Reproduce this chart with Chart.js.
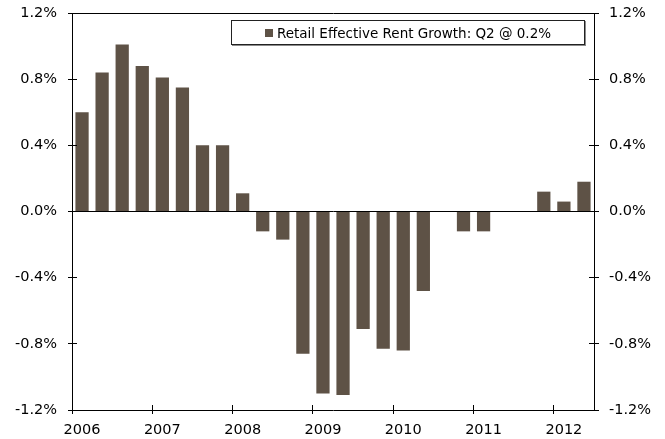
<!DOCTYPE html>
<html>
<head>
<meta charset="utf-8">
<script src="https://cdn.jsdelivr.net/npm/chart.js@4.4.1/dist/chart.umd.min.js"></script>
<style>
body { margin: 0; background: #fff; }
#wrap { position: relative; width: 665px; height: 439px; }
#wrap canvas { display: block; }
#legend {
    position: absolute; left: 231px; top: 20px; width: 354px; height: 25px;
    box-sizing: border-box; border: 1px solid #222; box-shadow: 1px 1px 0 #8a8a8a;
    background: #fff; display: flex; align-items: center; justify-content: center;
    font: 13.5px "DejaVu Sans", Verdana, sans-serif; color: #000;
}
#legend .mark { display: inline-block; width: 8px; height: 8px; margin-right: 4px; }
</style>
</head>
<body>
<div id="wrap">
    <canvas id="chart" width="665" height="439"></canvas>
    <div id="legend"></div>
</div>
<script>
const quarterLabels = [
    '2006 Q1', '2006 Q2', '2006 Q3', '2006 Q4',
    '2007 Q1', '2007 Q2', '2007 Q3', '2007 Q4',
    '2008 Q1', '2008 Q2', '2008 Q3', '2008 Q4',
    '2009 Q1', '2009 Q2', '2009 Q3', '2009 Q4',
    '2010 Q1', '2010 Q2', '2010 Q3', '2010 Q4',
    '2011 Q1', '2011 Q2', '2011 Q3', '2011 Q4',
    '2012 Q1', '2012 Q2'
];
const rentGrowth = [
    0.60, 0.84, 1.01, 0.88,
    0.81, 0.75, 0.40, 0.40,
    0.11, -0.12, -0.17, -0.86,
    -1.10, -1.11, -0.71, -0.83,
    -0.84, -0.48, 0, -0.12,
    -0.12, 0, 0, 0.12,
    0.06, 0.18
];
const yearLabels = ['2006', '2007', '2008', '2009', '2010', '2011', '2012'];
const yTicks = [-1.2, -0.8, -0.4, 0, 0.4, 0.8, 1.2];
const seriesName = 'Retail Effective Rent Growth: Q2 @ 0.2%';
const barColor = '#5e5246';

const font = { family: '"DejaVu Sans", Verdana, sans-serif', size: 14.5 };

// small ticks that poke into the plot as well as out of it
const innerTicks = {
    id: 'innerTicks',
    afterDraw(chart) {
        const { ctx, chartArea, scales } = chart;
        const align = p => Math.round(p - 0.5) + 0.5;
        const step = scales.x.getPixelForValue(1) - scales.x.getPixelForValue(0);
        ctx.save();
        ctx.strokeStyle = '#000';
        ctx.lineWidth = 1;
        ctx.beginPath();
        for (let i = 0; i < quarterLabels.length; i += 4) {
            const px = align(scales.x.getPixelForValue(i) - step / 2);
            ctx.moveTo(px, chartArea.bottom);
            ctx.lineTo(px, chartArea.bottom - 5);
        }
        yTicks.forEach(v => {
            const py = align(scales.y.getPixelForValue(v));
            ctx.moveTo(chartArea.left, py);
            ctx.lineTo(chartArea.left + 5, py);
            ctx.moveTo(chartArea.right, py);
            ctx.lineTo(chartArea.right - 5, py);
        });
        ctx.stroke();
        ctx.restore();
    }
};

const setTicks = scale => { scale.ticks = yTicks.map(v => ({ value: v })); };
const pct = v => v.toFixed(1) + '%';
const fitY = w => scale => {
    scale.width = w;
    scale.paddingTop = 0;
    scale.paddingBottom = 0;
};

new Chart(document.getElementById('chart'), {
    type: 'bar',
    data: {
        labels: quarterLabels,
        datasets: [{
            label: seriesName,
            data: rentGrowth,
            backgroundColor: barColor,
            borderWidth: 0,
            categoryPercentage: 1,
            barPercentage: 0.66,
            yAxisID: 'y'
        }]
    },
    options: {
        responsive: false,
        animation: false,
        devicePixelRatio: 1,
        layout: { padding: { top: 13, left: 0, right: 0, bottom: 0 } },
        plugins: { legend: { display: false }, tooltip: { enabled: false } },
        scales: {
            x: {
                offset: true,
                grid: {
                    offset: true,
                    drawOnChartArea: false,
                    tickLength: 4,
                    tickColor: ctx => ctx.index % 4 === 0 ? '#000' : 'rgba(0,0,0,0)'
                },
                border: { color: '#000' },
                ticks: {
                    autoSkip: false,
                    maxRotation: 0,
                    color: '#000',
                    font: font,
                    padding: 8,
                    callback: (v, i) => i % 4 === 0 ? yearLabels[i / 4] : ''
                },
                afterFit: scale => { scale.height = 29; }
            },
            y: {
                position: 'left',
                min: -1.2,
                max: 1.2,
                afterBuildTicks: setTicks,
                grid: {
                    color: ctx => (ctx.tick && (Math.abs(ctx.tick.value) < 1e-9 || Math.abs(ctx.tick.value - 1.2) < 1e-9)) ? '#000' : 'rgba(0,0,0,0)',
                    tickColor: '#000',
                    tickLength: 4
                },
                border: { color: '#000' },
                ticks: { color: '#000', font: font, padding: 11, callback: pct },
                afterFit: fitY(72)
            },
            y2: {
                position: 'right',
                min: -1.2,
                max: 1.2,
                afterBuildTicks: setTicks,
                grid: { drawOnChartArea: false, tickColor: '#000', tickLength: 5 },
                border: { color: '#000' },
                ticks: { color: '#000', font: font, padding: 10, callback: pct },
                afterFit: fitY(71)
            }
        }
    },
    plugins: [innerTicks]
});

const legend = document.getElementById('legend');
const mark = document.createElement('span');
mark.className = 'mark';
mark.style.background = barColor;
legend.appendChild(mark);
legend.appendChild(document.createTextNode(seriesName));
</script>
</body>
</html>
